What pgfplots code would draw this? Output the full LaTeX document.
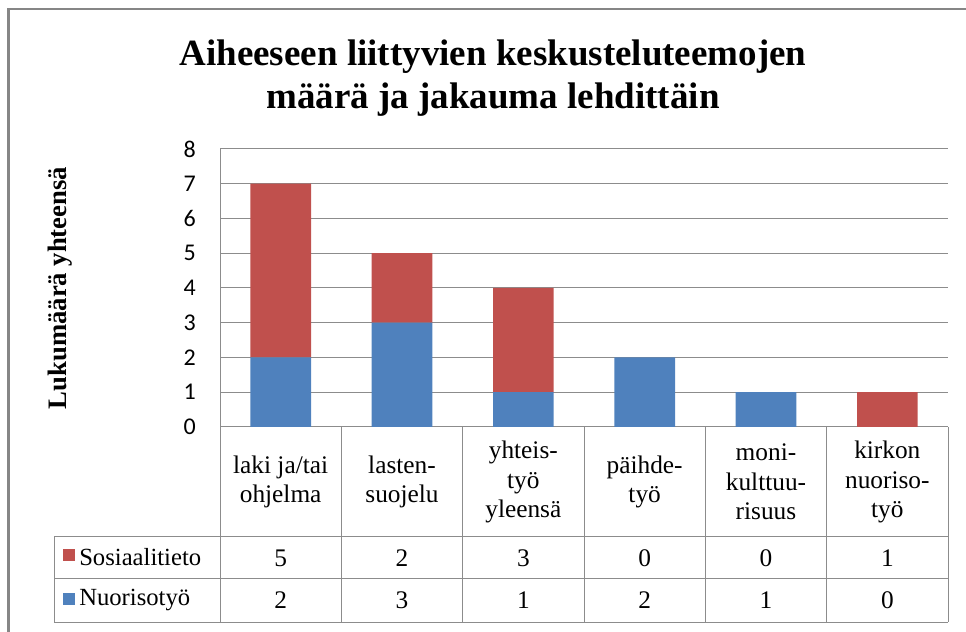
\documentclass[border=0pt]{standalone}
\usepackage{pgfplots}
\pgfplotsset{compat=1.18}
\usepackage{fontspec}
\setmainfont{Liberation Serif}
\newfontfamily\calibri{Carlito}
\definecolor{cred}{HTML}{C0504D}
\definecolor{cblue}{HTML}{4F81BD}
\definecolor{gridc}{HTML}{8C8C8C}
\definecolor{framec}{HTML}{868686}

\begin{document}
\begin{tikzpicture}
\useasboundingbox (0,0) rectangle (724.5pt,473.25pt);
\begin{scope}[x=0.75pt,y=0.75pt]
  \begin{scope}
    \clip (0,0) rectangle (966,631);
    \draw[framec, line width=1.6pt] (8.5,622) rectangle (1000,-40);
  \end{scope}
  % title
  \node[anchor=base, inner sep=0pt, font=\fontsize{27.75}{32}\selectfont\bfseries] at (493,565) {Aiheeseen liittyvien keskusteluteemojen};
  \node[anchor=base, inner sep=0pt, font=\fontsize{27.75}{32}\selectfont\bfseries] at (493,522) {määrä ja jakauma lehdittäin};
\end{scope}

\begin{axis}[
  at={(165pt,153pt)}, anchor=south west,
  scale only axis, width=546pt, height=208.5pt,
  ybar stacked, bar width=0.5,
  xmin=-0.5, xmax=5.5, ymin=0, ymax=8,
  xtick={0,...,5},
  xticklabels={{laki ja/tai\\ohjelma},{lasten-\\suojelu},{yhteis-\\työ\\yleensä},{päihde-\\työ},{moni-\\kulttuu-\\risuus},{kirkon\\nuoriso-\\työ}},
  ytick={0,...,8},
  axis x line*=bottom, axis y line*=left,
  ymajorgrids, grid style={gridc, line width=0.75pt},
  axis line style={gridc, line width=0.75pt},
  major tick length=0pt,
  /pgf/number format/assume math mode=true,
  yticklabel style={font=\calibri\fontsize{18}{18}\selectfont, inner sep=0pt, anchor=east, xshift=-18pt},
  xticklabel style={font=\fontsize{19}{22}\selectfont, align=center, anchor=center, inner sep=0pt, yshift=-41.25pt},
  ylabel={Lukumäärä yhteensä},
  ylabel style={at={(axis description cs:-0.2198,0.5)}, anchor=center, rotate=0, font=\fontsize{20}{24}\selectfont\bfseries},
  clip=false,
]
\addplot[fill=cblue, draw=none] coordinates {(0,2) (1,3) (2,1) (3,2) (4,1) (5,0)};
\addplot[fill=cred, draw=none] coordinates {(0,5) (1,2) (2,3) (3,0) (4,0) (5,1)};
\end{axis}

\begin{scope}[x=0.75pt,y=0.75pt]
  % table grid
  \foreach \k in {0,...,6} {
    \draw[gridc, line width=0.75pt] ({220+121.333*\k},204) -- ({220+121.333*\k},9);
  }
  \foreach \yy in {94,52,9} {
    \draw[gridc, line width=0.75pt] (54,\yy) -- (948,\yy);
  }
  \draw[gridc, line width=0.75pt] (54,94) -- (54,9);
  % legend cells
  \fill[cred] (63,69.5) rectangle (75,81.5);
  \fill[cblue] (63,26) rectangle (75,38);
  \node[anchor=west, inner sep=0pt, font=\fontsize{18.5}{20}\selectfont] at (79,74) {Sosiaalitieto};
  \node[anchor=west, inner sep=0pt, font=\fontsize{18.5}{20}\selectfont] at (79,31.5) {Nuorisotyö};
  % table values
  \foreach \v [count=\i from 0] in {5,2,3,0,0,1} {
    \node[inner sep=0pt, font=\fontsize{19}{20}\selectfont] at ({280.67+121.333*\i},73) {\v};
  }
  \foreach \v [count=\i from 0] in {2,3,1,2,1,0} {
    \node[inner sep=0pt, font=\fontsize{19}{20}\selectfont] at ({280.67+121.333*\i},30.5) {\v};
  }
\end{scope}
\end{tikzpicture}
\end{document}
